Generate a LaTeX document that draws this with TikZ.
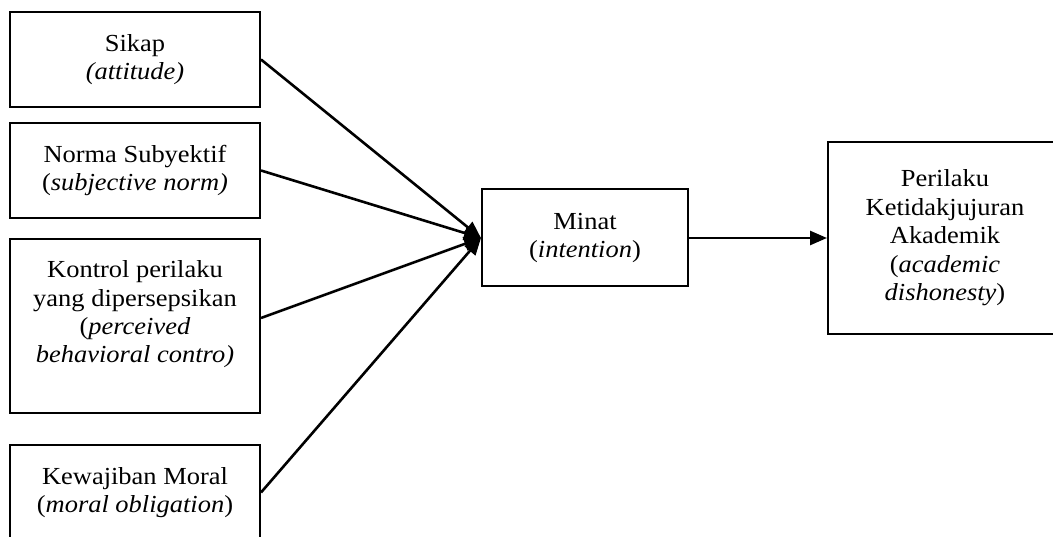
\documentclass[tikz,border=0pt]{standalone}
\usepackage{fontspec}
\setmainfont{Liberation Serif}[FakeStretch=1.08]
\usetikzlibrary{arrows.meta}
\begin{document}
\begin{tikzpicture}[x=1pt,y=-1pt,
  box/.style={draw, line width=2pt, rectangle, inner sep=0pt, align=center,
    font=\fontsize{24.5}{28.5}\selectfont},
  link/.style={line width=2.6pt, -{Triangle[length=17pt,width=14pt]}}]
\clip (0,0) rectangle (1053,537);
\node[box, minimum width=250pt, minimum height=95pt] (sikap) at (135,59.5)
  {Sikap\\\textit{(attitude)}};
\node[box, minimum width=250pt, minimum height=95pt] (norma) at (135,170.5)
  {Norma Subyektif\\(\textit{subjective norm)}};
\node[box, minimum width=250pt, minimum height=174pt] (kontrol) at (135,326)
  {Kontrol perilaku\\yang dipersepsikan\\(\textit{perceived}\\\textit{behavioral contro)}\\~};
\node[box, minimum width=250pt, minimum height=95pt] (kewajiban) at (135,492.5)
  {Kewajiban Moral\\(\textit{moral obligation})};
\node[box, minimum width=206pt, minimum height=97pt] (minat) at (585,238)
  {Minat\\(\textit{intention})};
\node[box, minimum width=234pt, minimum height=192pt] (perilaku) at (945,238)
  {Perilaku\\Ketidakjujuran\\Akademik\\(\textit{academic}\\\textit{dishonesty})};
\draw[link] (sikap.east) -- (minat.west);
\draw[link] (norma.east) -- (minat.west);
\draw[link] ([yshift=8pt]kontrol.east) -- (minat.west);
\draw[link] (kewajiban.east) -- (minat.west);
\draw[link] (minat.east) -- (perilaku.west);
\end{tikzpicture}
\end{document}
